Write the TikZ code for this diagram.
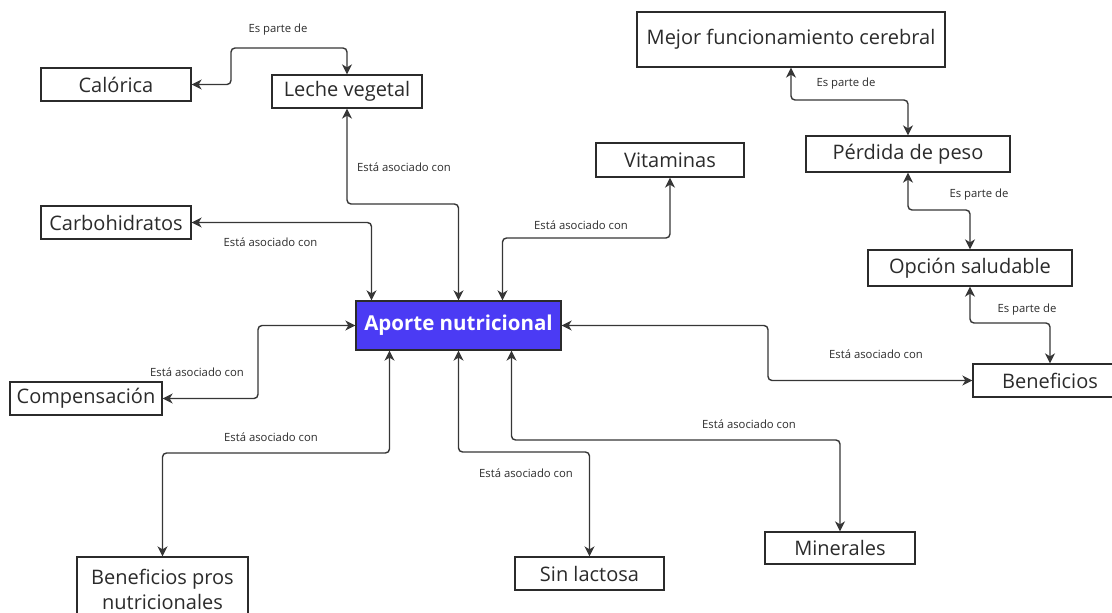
\documentclass[tikz,border=0pt]{standalone}
\usepackage{fontspec}
\setmainfont{Open Sans}
\usetikzlibrary{arrows.meta}
\definecolor{ink}{HTML}{2B2B2B}
\definecolor{aporteblue}{HTML}{4B3BF4}
\tikzset{
  box/.style={draw=ink, line width=1.3pt, fill=white, inner sep=0pt, text=ink,
    font=\fontsize{20}{24}\selectfont, align=center},
  mainbox/.style={box, fill=aporteblue, text=white, font=\fontsize{20.5}{24}\selectfont\bfseries},
  conn/.style={draw=ink!95, line width=1.4pt, rounded corners=4pt,
    {Stealth[length=10pt,width=10pt,inset=3pt]}-{Stealth[length=10pt,width=10pt,inset=3pt]}},
  lbl/.style={text=ink, font=\fontsize{11.3}{13}\selectfont, inner sep=0pt}
}
\begin{document}
\begin{tikzpicture}[x=1pt,y=-1pt]
\useasboundingbox (0,0) rectangle (1112,613);
% boxes
\node[box, minimum width=150pt, minimum height=33pt] (cal) at (116,84.5) {Calórica};
\node[box, minimum width=150pt, minimum height=33pt] (leche) at (347,91.5) {Leche vegetal};
\node[box, minimum width=150pt, minimum height=33pt] (carb) at (116,222.5) {Carbohidratos};
\node[box, minimum width=148pt, minimum height=34pt] (vit) at (670,160) {Vitaminas};
\node[box, minimum width=308pt, minimum height=55pt] (mejor) at (791,39.5) {Mejor funcionamiento cerebral};
\node[box, minimum width=204pt, minimum height=36pt] (perd) at (908,154) {Pérdida de peso};
\node[box, minimum width=204pt, minimum height=36pt] (opc) at (970,268) {Opción saludable};
\node[box, minimum width=154pt, minimum height=33pt] (benef) at (1050,380.5) {Beneficios};
\node[mainbox, minimum width=205pt, minimum height=49pt] (aporte) at (458.5,325.5) {Aporte nutricional};
\node[box, minimum width=152pt, minimum height=33pt] (comp) at (86,398.5) {Compensación};
\node[box, minimum width=171pt, minimum height=64pt, font=\fontsize{20}{25}\selectfont] (bpros) at (162.5,589) {Beneficios pros\\nutricionales};
\node[box, minimum width=149pt, minimum height=33pt] (sinl) at (589.5,573.5) {Sin lactosa};
\node[box, minimum width=150pt, minimum height=32pt] (min) at (840,548) {Minerales};
% connectors
\draw[conn] (cal.east) -- (231,84.5) -- (231,48) -- (347,48) -- (leche.north);
\node[lbl] (l1) at (278,30) {Es parte de};
\draw[conn] (leche.south) -- (347,204) -- (458.5,204) -- (aporte.north);
\node[lbl] (l2) at (404,167) {Está asociado con};
\draw[conn] (carb.east) -- (371.5,222.5) -- ([xshift=-87pt]aporte.north);
\node[lbl] (l3) at (270.5,242) {Está asociado con};
\draw[conn] (vit.south) -- (670,238) -- (502.5,238) -- ([xshift=44pt]aporte.north);
\node[lbl] (l4) at (581,225) {Está asociado con};
\draw[conn] (comp.east) -- (258,398.5) -- (258,325.5) -- (aporte.west);
\node[lbl] (l5) at (197,372) {Está asociado con};
\draw[conn] ([xshift=-69pt]aporte.south) -- (389.5,453) -- (162.5,453) -- (bpros.north);
\node[lbl] (l6) at (271,437) {Está asociado con};
\draw[conn] (aporte.south) -- (458.5,452) -- (589.5,452) -- (sinl.north);
\node[lbl] (l7) at (526,473) {Está asociado con};
\draw[conn] ([xshift=53pt]aporte.south) -- (511.5,440) -- (840,440) -- (min.north);
\node[lbl] (l8) at (749,424) {Está asociado con};
\draw[conn] (aporte.east) -- (768,325.5) -- (768,380.5) -- (benef.west);
\node[lbl] (l9) at (876,354) {Está asociado con};
\draw[conn] (opc.south) -- (970,323) -- (1050,323) -- (benef.north);
\node[lbl] (l10) at (1027,310) {Es parte de};
\draw[conn] (perd.south) -- (908,210) -- (970,210) -- (opc.north);
\node[lbl] (l11) at (979,195) {Es parte de};
\draw[conn] (mejor.south) -- (791,100) -- (908,100) -- (perd.north);
\node[lbl] (l12) at (846,84) {Es parte de};
\end{tikzpicture}
\end{document}
